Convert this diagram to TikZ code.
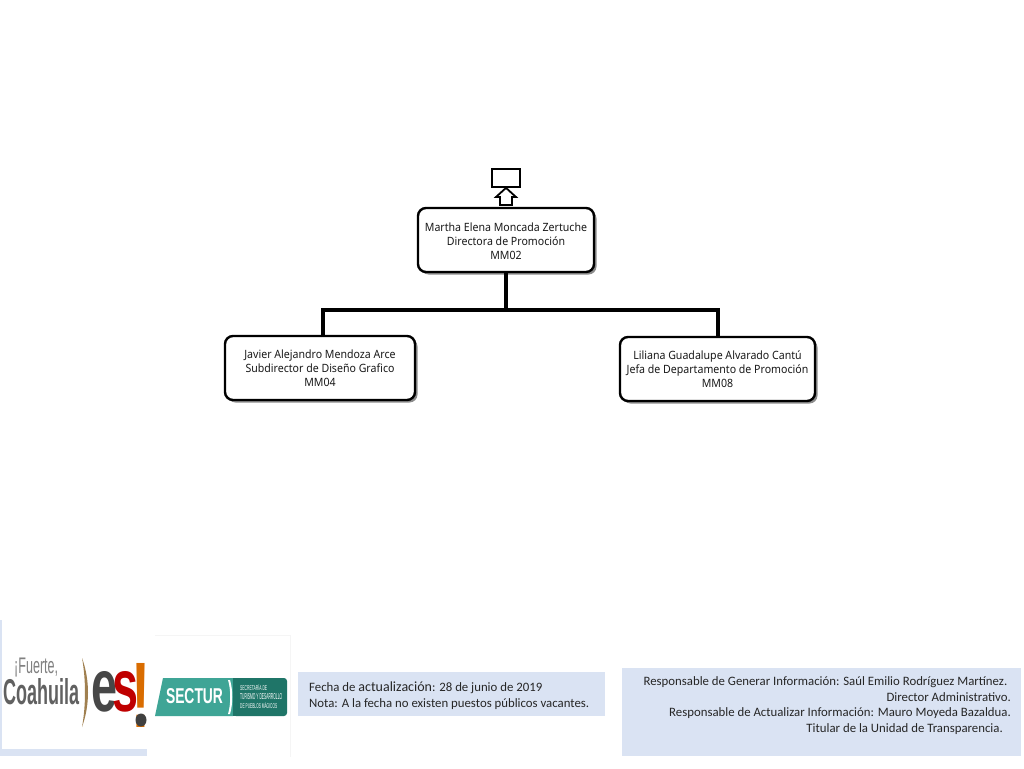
\documentclass[tikz,border=0pt]{standalone}
\usepackage{fontspec}
\setmainfont[FakeStretch=0.93]{Noto Sans}
\newfontfamily\footfont{Carlito}
\newfontfamily\logofont{Liberation Sans}
\usetikzlibrary{shadows}
\definecolor{panel}{HTML}{DAE3F3}
\definecolor{tealA}{HTML}{3FA596}
\definecolor{tealB}{HTML}{1F7568}
\definecolor{bracket}{HTML}{A08050}
\tikzset{
  x=1pt,y=-1pt,
  orgbox/.style={draw=black,line width=2.4pt,rounded corners=8pt,fill=white,align=center,inner sep=0pt,
    font=\fontsize{11.4}{14}\selectfont,text=black!90,
    drop shadow={shadow xshift=2.5pt,shadow yshift=-2.5pt,fill=black,opacity=.45}},
  link/.style={draw=black,line width=3.2pt,line cap=butt,line join=miter},
  plain/.style={draw=black,line width=1.8pt,fill=white},
  panelbox/.style={fill=panel,draw=none,inner sep=0pt},
  foot/.style={font=\footfont\fontsize{12.8}{16}\selectfont,text=black!85,inner sep=0pt},
  logo/.style={inner sep=0pt,font=\logofont\bfseries},
}
\begin{document}
\begin{tikzpicture}
\useasboundingbox (0,0) rectangle (1024,768);
\fill[white] (0,0) rectangle (1024,768);

% connectors first
\coordinate (busl) at (323,310);
\coordinate (busr) at (718,310);
\coordinate (dropl) at (323,337);
\coordinate (dropr) at (718,338);

\node[orgbox,minimum width=176pt,minimum height=64pt] (top) at (506,240)
  {\rule{0pt}{10.5pt}Martha Elena Moncada Zertuche\\Directora de Promoción\\MM02};
\node[orgbox,minimum width=190pt,minimum height=64pt] (left) at (320,368)
  {Javier Alejandro Mendoza Arce\\Subdirector de Diseño Grafico\\MM04};
\node[orgbox,minimum width=195pt,minimum height=64pt] (right) at (717.5,369)
  {Liliana Guadalupe Alvarado Cantú\\Jefa de Departamento de Promoción\\MM08};

\draw[link] (top.south) -- (top.south |- busl);
\draw[link] (dropl) -- (busl) -- (busr) -- (dropr);

% upper empty box and block arrow
\node[plain,minimum width=28pt,minimum height=18pt,inner sep=0pt] (up) at (506,178) {};
\draw[plain,line join=miter] (up.south) -- (516,197) -- (512,197) -- (512,205) -- (500,205) -- (500,197) -- (496,197) -- cycle;

% left logo
\fill[panel] (0,620) rectangle (2,756);
\fill[panel] (0,749) rectangle (147,756);
\node[logo,anchor=west,text=black!50,font=\logofont] (fuerte) at (14,667.5)
  {\resizebox{44pt}{15.5pt}{¡Fuerte,}};
\node[logo,anchor=west,text=black!62] (coah) at (3,691.5)
  {\resizebox{76pt}{26pt}{Coahuila}};
\fill[bracket] (82,658) .. controls (90,680) and (90,705) .. (82,727) .. controls (86,705) and (86,680) .. (82,658);
\node[logo,anchor=west,text=black!72] (es1) at (91.5,692)
  {\resizebox{26pt}{40pt}{e}};
\node[logo,anchor=west,text=red!75!black] (es2) at (112,692)
  {\resizebox{26pt}{40pt}{s}};
\node[logo,anchor=center,text=orange!85!black] (bang) at (141,695)
  {\resizebox{19pt}{64pt}{!}};
\fill[black!75] (141,720) ellipse (5.5 and 6.5);

% SECTUR logo
\draw[black!4,line width=.8pt] (155,635) -- (290,635) -- (290,757);
\fill[tealA] (163,678) -- (233,678) -- (233,716) -- (155,716) -- cycle;
\fill[tealB,rounded corners=3pt] (233,678) -- (287,678) -- (287,716) -- (233,716) -- cycle;
\fill[tealB] (233,678) rectangle (240,716);
\fill[white] (230,680) .. controls (233,690) and (233,704) .. (230,714) -- (228,714) .. controls (231,704) and (231,690) .. (228,680) -- cycle;
\node[logo,text=white] (sectur) at (194.5,696) {\resizebox{57pt}{15pt}{SECTUR}};
\node[text=white,inner sep=0pt,align=left,anchor=west,font=\logofont\fontsize{5.2}{9}\selectfont] (sectxt) at (240,697)
  {\resizebox{27pt}{6pt}{SECRETARÍA DE}\\\resizebox{42pt}{6pt}{TURISMO Y DESARROLLO}\\\resizebox{37pt}{6pt}{DE PUEBLOS MÁGICOS}};

% footer panels
\node[panelbox,minimum width=307pt,minimum height=44pt] (fecha) at (451.5,694) {};
\node[foot,anchor=west,align=left] (fechatxt) at (309,696)
  {Fecha de {\fontsize{14}{16}\selectfont actualización}: 28 de junio de 2019\\Nota: A la fecha no existen puestos públicos vacantes.};
\node[panelbox,minimum width=399pt,minimum height=88pt] (resp) at (821.5,712) {};
\node[foot,anchor=east,align=right,font=\footfont\fontsize{12.8}{15.65}\selectfont] (resptxt) at (1011,705.5)
  {Responsable de Generar Información: Saúl Emilio Rodríguez Martínez.\hspace*{3.5pt}\\
   Director Administrativo.\\
   Responsable de Actualizar Información: Mauro Moyeda Bazaldua.\hspace*{3pt}\\
   Titular de la Unidad de Transparencia.\hspace*{8pt}};
\end{tikzpicture}
\end{document}
